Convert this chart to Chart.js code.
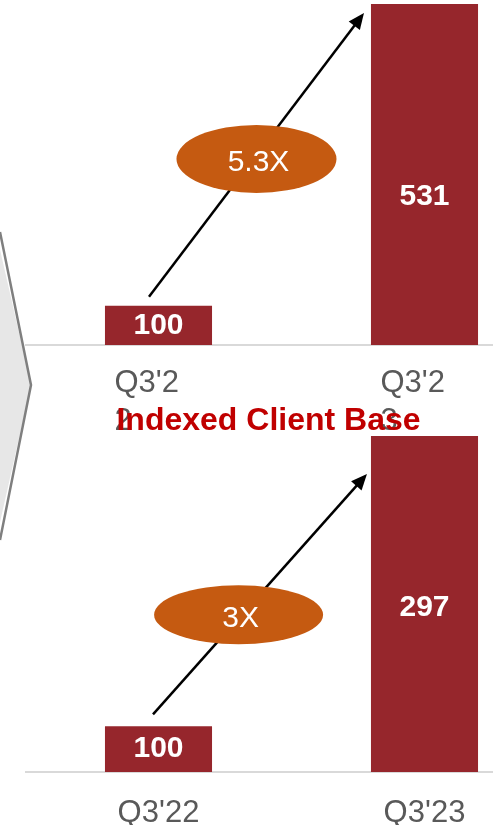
<!DOCTYPE html>
<html>
<head>
<meta charset="utf-8">
<script src="https://cdn.jsdelivr.net/npm/chart.js@4.4.1/dist/chart.umd.min.js"></script>
<style>
  html, body { margin: 0; padding: 0; background: #fff; overflow: hidden; }
  #wrap { position: relative; width: 493px; height: 825px; overflow: hidden; }
  #wrap canvas { position: absolute; left: 0; }
  #topChart { top: 0; }
  #bottomChart { top: 380px; }
</style>
</head>
<body>
<div id="wrap">
  <canvas id="topChart" width="560" height="560"></canvas>
  <canvas id="bottomChart" width="560" height="445"></canvas>
</div>
<script>
// data
const topLabels = [["Q3'2", "2"], ["Q3'2", "3"]];
const topValues = [100, 531];
const topAxisMin = 44;
const topGrowth = '5.3X';

const bottomLabels = ["Q3'22", "Q3'23"];
const bottomValues = [100, 297];
const bottomAxisMin = 69;
const bottomGrowth = '3X';

const chartTitle = 'Indexed Client Base';

const FONT = "'Liberation Sans', Arial, sans-serif";
const BAR_RED = '#96262c';
const BUBBLE = '#c55a11';

// labels, arrow, bubble, chevron, title
const decorPlugin = {
    id: 'decor',
    beforeDraw(chart, args, o) {
        if (!o.chevron) return;
        const ctx = chart.ctx;
        ctx.save();
        ctx.beginPath();
        ctx.moveTo(-4, 232);
        ctx.lineTo(31, 385);
        ctx.lineTo(-4, 540);
        ctx.closePath();
        ctx.fillStyle = '#e7e7e7';
        ctx.fill();
        ctx.beginPath();
        ctx.moveTo(0, 232);
        ctx.lineTo(31, 385);
        ctx.lineTo(0, 540);
        ctx.strokeStyle = '#7f7f7f';
        ctx.lineWidth = 2.5;
        ctx.stroke();
        ctx.restore();
    },
    afterDatasetsDraw(chart, args, o) {
        const ctx = chart.ctx;
        const bars = chart.getDatasetMeta(0).data;
        const values = chart.data.datasets[0].data;
        const bottom = chart.chartArea.bottom;
        ctx.save();

        // value labels inside bars
        ctx.fillStyle = '#fff';
        ctx.font = 'bold 30px ' + FONT;
        ctx.textAlign = 'center';
        ctx.textBaseline = 'middle';
        bars.forEach((bar, i) => {
            const base = Math.min(bar.base, bottom);
            const y = bar.y + (base - bar.y) * o.labelPos[i];
            ctx.fillText(values[i], bar.x, y);
        });

        // growth arrow
        const a = bars[0], b = bars[1];
        const x1 = a.x + o.from[0], y1 = a.y + o.from[1];
        const x2 = b.x - b.width / 2 + o.to[0], y2 = b.y + o.to[1];
        const ang = Math.atan2(y2 - y1, x2 - x1);
        const head = 16, half = 7;
        ctx.strokeStyle = '#000';
        ctx.lineWidth = 2.5;
        ctx.beginPath();
        ctx.moveTo(x1, y1);
        ctx.lineTo(x2 - Math.cos(ang) * head * 0.8, y2 - Math.sin(ang) * head * 0.8);
        ctx.stroke();
        ctx.fillStyle = '#000';
        ctx.beginPath();
        ctx.moveTo(x2, y2);
        ctx.lineTo(x2 - Math.cos(ang) * head - Math.sin(ang) * half, y2 - Math.sin(ang) * head + Math.cos(ang) * half);
        ctx.lineTo(x2 - Math.cos(ang) * head + Math.sin(ang) * half, y2 - Math.sin(ang) * head - Math.cos(ang) * half);
        ctx.closePath();
        ctx.fill();

        // bubble with multiplier
        const cx = x1 + (x2 - x1) * o.bubble.t;
        const cy = y1 + (y2 - y1) * o.bubble.t + o.bubble.dy;
        ctx.fillStyle = BUBBLE;
        ctx.beginPath();
        ctx.ellipse(cx, cy, o.bubble.rx, o.bubble.ry, 0, 0, Math.PI * 2);
        ctx.fill();
        ctx.fillStyle = '#fff';
        ctx.font = '30px ' + FONT;
        ctx.fillText(o.bubble.text, cx + 2, cy + 4);

        if (o.title) {
            ctx.fillStyle = '#c00000';
            ctx.font = 'bold 32px ' + FONT;
            ctx.fillText(o.title, 268.5, 41);
        }
        ctx.restore();
    }
};

function makeChart(id, labels, values, axisMin, axisMax, pad, axisHeight, tickOpts, decor) {
    return new Chart(document.getElementById(id), {
        type: 'bar',
        data: {
            labels: labels,
            datasets: [{
                data: values,
                backgroundColor: BAR_RED,
                borderWidth: 0,
                barPercentage: 1,
                categoryPercentage: 0.4025
            }]
        },
        options: {
            responsive: false,
            animation: false,
            events: [],
            layout: { padding: pad },
            plugins: {
                legend: { display: false },
                tooltip: { enabled: false },
                decor: decor
            },
            scales: {
                x: {
                    grid: { display: false },
                    border: { display: true, color: '#d9d9d9', width: 2 },
                    ticks: Object.assign({
                        color: '#595959',
                        maxRotation: 0,
                        font: { family: FONT, size: 31, lineHeight: 1.24 }
                    }, tickOpts),
                    afterFit: s => { s.height = axisHeight; }
                },
                y: { display: false, min: axisMin, max: axisMax }
            }
        },
        plugins: [decorPlugin]
    });
}

makeChart('topChart', topLabels, topValues, topAxisMin, 531,
    { top: 4, left: 25.5, right: 2.5, bottom: 120 }, 95,
    { padding: 11, align: 'start', labelOffset: -44 },
    {
        chevron: true,
        labelPos: [0.5, 0.565],
        from: [-9.5, -9],
        to: [-7, 9],
        bubble: { t: 0.5, dy: 4, rx: 80, ry: 34, text: topGrowth }
    });

makeChart('bottomChart', bottomLabels, bottomValues, bottomAxisMin, 297,
    { top: 56, left: 25.5, right: 2.5, bottom: 0 }, 53,
    { padding: 14 },
    {
        labelPos: [0.5, 0.51],
        from: [-5.5, -12],
        to: [-4, 38],
        bubble: { t: 0.4, dy: -3.5, rx: 84.5, ry: 29.5, text: bottomGrowth },
        title: chartTitle
    });
</script>
</body>
</html>
